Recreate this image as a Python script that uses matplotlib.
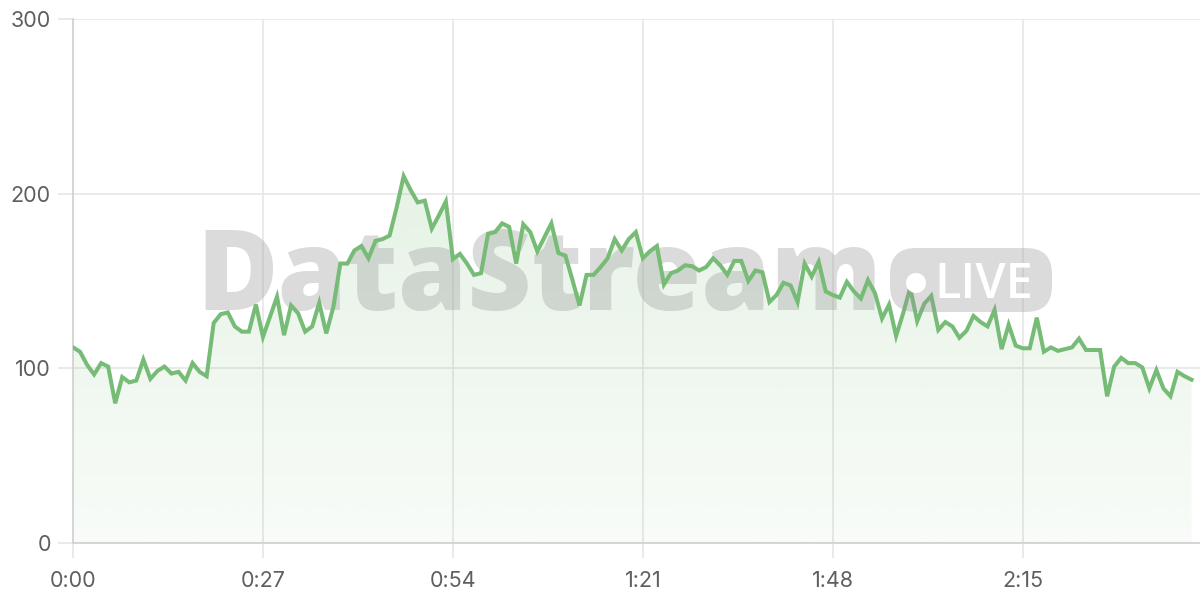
import matplotlib
matplotlib.use("Agg")
import matplotlib.pyplot as plt
import numpy as np
from matplotlib.patches import FancyBboxPatch, Circle, Polygon
from matplotlib.transforms import IdentityTransform

# ---- data ----
values = [
    112, 109.5, 102, 96.5, 103, 101, 80, 95, 92, 93,
    105, 94, 98.5, 101, 97, 98, 93, 103, 98, 95.5,
    126, 131, 132, 124, 121, 121, 136.5, 118, 129.5, 141,
    119, 136, 131.5, 121, 124, 137.5, 120, 135, 160, 160,
    167.5, 170, 163, 173, 174, 176, 192, 210, 202, 195,
    196, 180, 187.5, 195.5, 162.5, 165.5, 160, 153.5, 154.5, 177,
    178, 183, 181, 160, 182.5, 178, 167, 175, 183, 166,
    164.5, 150.5, 136, 153.5, 153.5, 158, 163, 174, 167.5, 174,
    178, 163, 167, 170, 148, 154.5, 156, 159, 158.5, 156,
    158, 163, 159, 153.5, 161.5, 161.5, 150, 156, 155, 138,
    142, 149, 147.5, 138, 160, 152.5, 161, 144, 142, 140.5,
    149.5, 144, 140, 150.5, 143, 128.5, 136.5, 118.5, 131.5, 146,
    127, 137, 141.5, 122, 126.5, 124, 117.5, 121.5, 130, 126.5,
    124, 133.5, 111, 125, 113, 111.5, 111.5, 129, 109.5, 112,
    110, 111, 112, 117, 110.5, 110.5, 110.5, 84, 101, 106,
    103, 103, 100.5, 88.5, 99, 88.5, 84, 98, 95.5, 93.5,
]
seconds = np.arange(len(values))
x_ticks = [0, 27, 54, 81, 108, 135]
x_tick_labels = ["0:00", "0:27", "0:54", "1:21", "1:48", "2:15"]
y_ticks = [0, 100, 200, 300]
y_tick_labels = ["0", "100", "200", "300"]

LINE = "#76bb76"
GRID = "#e6e6e6"
TEXT = "#5f5f5f"

plt.rcParams['font.family'] = ['Inter', 'DejaVu Sans']

fig = plt.figure(figsize=(12, 6), dpi=100)
ax = fig.add_axes([73/1200, 57/600, 1127/1200, 524/600])

ax.set_xlim(0, 160.2)
ax.set_ylim(0, 300)

# gradient fill under line
grad = np.linspace(0.05, 0.24, 256)
rgba = np.zeros((256, 1, 4))
rgba[..., 0] = 0x76 / 255
rgba[..., 1] = 0xbb / 255
rgba[..., 2] = 0x76 / 255
rgba[..., 3] = grad[:, None]
im = ax.imshow(rgba, extent=[0, 160.2, 0, 300], origin='lower', aspect='auto', zorder=1)
poly_xy = np.column_stack([np.r_[seconds[0], seconds, seconds[-1]],
                           np.r_[0, values, 0]])
clip = Polygon(poly_xy, closed=True, transform=ax.transData, facecolor='none', edgecolor='none')
ax.add_patch(clip)
im.set_clip_path(clip)

# watermark
ax.text(0.4135, 0.4447, "DataStream", transform=ax.transAxes, ha='center', va='baseline',
        fontsize=80, fontweight='heavy', color='#9a9a9a', alpha=0.35, zorder=2,
        family=['Open Sans', 'DejaVu Sans'])
pill = FancyBboxPatch((890, 288), 162, 64, boxstyle="round,pad=0,rounding_size=26",
                      transform=IdentityTransform(), facecolor='#9a9a9a', alpha=0.35,
                      edgecolor='none', zorder=2)
fig.add_artist(pill)
fig.add_artist(Circle((916, 317), 10, transform=IdentityTransform(), facecolor='white',
                      edgecolor='none', zorder=3))
fig.text(934 / 1200, 302 / 600, "LIVE", ha='left', va='baseline', fontsize=35,
         fontweight='semibold', color='white', zorder=3, family=['Open Sans', 'DejaVu Sans'])

# line
ax.plot(seconds, values, color=LINE, linewidth=2.9, zorder=4, solid_joinstyle='miter')

# axes styling
ax.set_xticks(x_ticks)
ax.set_xticklabels(x_tick_labels)
ax.set_yticks(y_ticks)
ax.set_yticklabels(y_tick_labels)
ax.grid(True, color=GRID, linewidth=1.2, zorder=0)
ax.set_axisbelow(True)
ax.tick_params(axis='both', length=11, width=1.2, color=GRID, labelcolor=TEXT, labelsize=15.5)
ax.tick_params(axis='x', pad=9)
ax.tick_params(axis='y', pad=5)
for s in ['top', 'right']:
    ax.spines[s].set_visible(False)
for s in ['left', 'bottom']:
    ax.spines[s].set_color('#d0d0d0')
    ax.spines[s].set_linewidth(1.2)

fig.savefig("out.png", dpi=100)
